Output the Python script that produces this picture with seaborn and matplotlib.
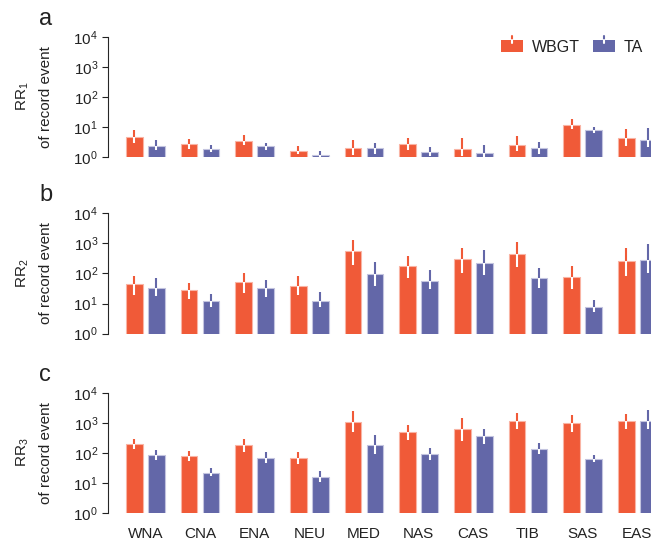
import matplotlib
matplotlib.use("Agg")
import matplotlib.pyplot as plt
from matplotlib.legend_handler import HandlerBase
from matplotlib.lines import Line2D
from matplotlib.patches import Patch, Rectangle
from matplotlib.ticker import NullLocator
import numpy as np
import pandas as pd
import seaborn as sns

regions = ['WNA', 'CNA', 'ENA', 'NEU', 'MED', 'NAS', 'CAS', 'TIB', 'SAS', 'EAS']
variables = ['WBGT', 'TA']

# RR1
rr1_wbgt = [4.6, 2.65, 3.4, 1.58, 2.0, 2.65, 1.9, 2.6, 12.0, 4.4]
rr1_wbgt_lo = [2.9, 1.9, 2.45, 1.3, 1.2, 1.67, 1.05, 1.58, 8.8, 2.3]
rr1_wbgt_hi = [8.2, 4.1, 5.3, 2.3, 3.8, 4.3, 4.3, 4.9, 19, 8.4]
rr1_ta = [2.3, 1.9, 2.27, 1.2, 2.0, 1.47, 1.36, 2.0, 8.2, 3.8]
rr1_ta_lo = [1.67, 1.47, 1.76, 1.0, 1.3, 1.1, 1.0, 1.3, 6.3, 2.15]
rr1_ta_hi = [3.6, 2.45, 2.9, 1.58, 2.9, 2.15, 2.6, 3.2, 10, 9.5]

# RR2
rr2_wbgt = [43, 29, 53, 39, 540, 175, 294, 455, 78, 265]
rr2_wbgt_lo = [19, 14, 23, 19, 190, 68, 105, 166, 30, 84]
rr2_wbgt_hi = [84, 50, 105, 81, 1300, 380, 700, 1080, 175, 680]
rr2_ta = [33, 11.7, 32, 12.3, 93, 58, 228, 68, 7.7, 286]
rr2_ta_lo = [18, 7.7, 16, 7.4, 38, 30, 88, 33, 5.3, 105]
rr2_ta_hi = [72, 20.5, 60, 24.5, 240, 130, 615, 155, 13, 950]

# RR3
rr3_wbgt = [195, 76, 185, 66, 1070, 480, 610, 1180, 960, 1130]
rr3_wbgt_lo = [132, 52, 105, 42, 510, 270, 257, 625, 510, 625]
rr3_wbgt_hi = [290, 117, 290, 107, 2460, 830, 1410, 2180, 1820, 1960]
rr3_ta = [82, 22, 68, 16, 180, 90, 350, 135, 63, 1150]
rr3_ta_lo = [58, 17, 45, 11, 93, 58, 200, 93, 49, 610]
rr3_ta_hi = [120, 32, 107, 25, 395, 150, 645, 220, 84, 2700]

panels = [
    ('a', '1', (rr1_wbgt, rr1_wbgt_lo, rr1_wbgt_hi), (rr1_ta, rr1_ta_lo, rr1_ta_hi)),
    ('b', '2', (rr2_wbgt, rr2_wbgt_lo, rr2_wbgt_hi), (rr2_ta, rr2_ta_lo, rr2_ta_hi)),
    ('c', '3', (rr3_wbgt, rr3_wbgt_lo, rr3_wbgt_hi), (rr3_ta, rr3_ta_lo, rr3_ta_hi)),
]

red = '#F05A38'
blue = '#6367A8'
red_edge = '#F9B4A4'
blue_edge = '#C3C4DF'
text_col = '#222222'

sns.set_style('ticks')
plt.rcParams['font.family'] = ['Liberation Sans', 'DejaVu Sans']
plt.rcParams['mathtext.fontset'] = 'custom'
plt.rcParams['mathtext.rm'] = 'Liberation Sans'
plt.rcParams['mathtext.it'] = 'Liberation Sans:italic'
plt.rcParams['mathtext.default'] = 'regular'


class BarErrHandler(HandlerBase):
    def create_artists(self, legend, orig_handle, xdescent, ydescent,
                       width, height, fontsize, trans):
        color = orig_handle.get_facecolor()
        rect = Rectangle((-xdescent, -ydescent), width, height,
                         facecolor=color, edgecolor='none', transform=trans)
        cx = -xdescent + width / 2
        top = -ydescent + height
        stub = 0.3 * height
        up = Line2D([cx, cx], [top, top + stub], color=color, lw=1.5, transform=trans)
        down = Line2D([cx, cx], [top - stub, top], color='white', lw=1.5, transform=trans)
        return [rect, up, down]


fig = plt.figure(figsize=(6.51, 5.4), dpi=100)
W, H = 651, 540
left = 107.7 / W
width = 10.39 * 54.65 / W
tops = [36.7, 213.3, 392.7]
height = 120.3 / H

for i, (letter, sub, wb, ta) in enumerate(panels):
    bottom = 1 - (tops[i] + 120.3) / H
    ax = fig.add_axes([left, bottom, width, height])
    df = pd.DataFrame({
        'region': regions * 2,
        'var': ['WBGT'] * len(regions) + ['TA'] * len(regions),
        'value': list(wb[0]) + list(ta[0]),
    })
    sns.barplot(data=df, x='region', y='value', hue='var', hue_order=variables,
                order=regions, palette=[red, blue], saturation=1, gap=0.24,
                errorbar=None, legend=False, ax=ax)
    ax.set_yscale('log')
    ax.set_ylim(1, 1e4)
    ax.set_xlim(-0.69, 9.7)
    ax.yaxis.set_minor_locator(NullLocator())
    ax.set_yticks([1, 10, 100, 1000, 10000])

    for cont, (vals, lo, hi), col, ecol in zip(ax.containers, [wb, ta],
                                                [red, blue], [red_edge, blue_edge]):
        xs = []
        for p in cont.patches:
            p.set_edgecolor(ecol)
            p.set_linewidth(0.8)
            xs.append(p.get_x() + p.get_width() / 2)
        xs = np.array(xs)
        ax.vlines(xs, lo, hi, color=col, lw=1.5, zorder=3)
        ax.vlines(xs, lo, np.minimum(vals, hi), color='white', lw=1.5, zorder=4)

    sns.despine(ax=ax, bottom=True)
    ax.tick_params(axis='x', length=0, labelsize=11, colors=text_col, pad=10)
    ax.tick_params(axis='y', length=4.5, width=0.8, labelsize=11, colors=text_col, pad=2.5)
    ax.spines['left'].set_linewidth(0.8)
    ax.set_xlabel('')
    ax.set_ylabel('')
    if i < 2:
        ax.set_xticklabels([])

    cy = 1 - (tops[i] + 60) / H
    fig.text(23 / W, cy, 'RR$_{' + sub + '}$', rotation=90, ha='center', va='center',
             fontsize=11, color=text_col)
    fig.text(46 / W, cy, 'of record event', rotation=90, ha='center', va='center',
             fontsize=11, color=text_col)
    fig.text(39 / W, 1 - (tops[i] - 12) / H, letter, fontsize=17, color=text_col,
             va='baseline', ha='left')

handles = [Patch(facecolor=red, label='WBGT'), Patch(facecolor=blue, label='TA')]
fig.legend(handles=handles, handler_map={Patch: BarErrHandler()}, ncol=2,
           frameon=False, fontsize=11.5, loc='center right',
           bbox_to_anchor=(643 / W, 1 - 47 / H), borderaxespad=0, borderpad=0,
           handlelength=1.4, handleheight=0.85, handletextpad=0.55,
           columnspacing=0.8, labelcolor=text_col)

fig.savefig('out.png', dpi=100)
